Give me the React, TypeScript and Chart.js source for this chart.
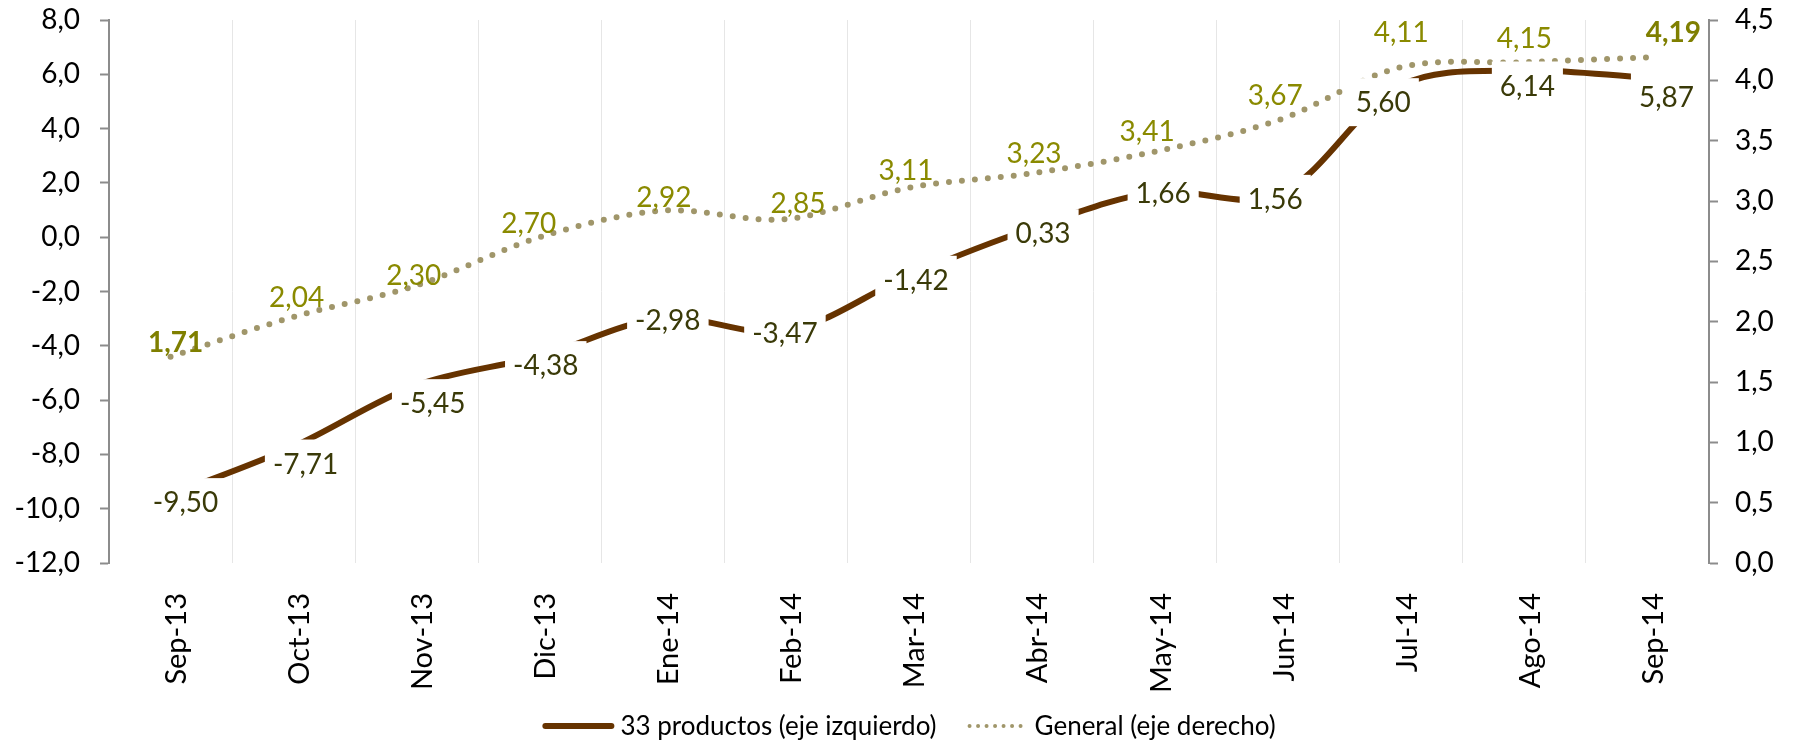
import React, { useEffect, useRef } from 'react';
import { Chart, registerables } from 'chart.js';

Chart.register(...registerables);

const categories = ['Sep-13', 'Oct-13', 'Nov-13', 'Dic-13', 'Ene-14', 'Feb-14', 'Mar-14', 'Abr-14', 'May-14', 'Jun-14', 'Jul-14', 'Ago-14', 'Sep-14'];
const productos33 = [-9.5, -7.71, -5.45, -4.38, -2.98, -3.47, -1.42, 0.33, 1.66, 1.56, 5.6, 6.14, 5.87];
const general = [1.71, 2.04, 2.3, 2.7, 2.92, 2.85, 3.11, 3.23, 3.41, 3.67, 4.11, 4.15, 4.19];
const seriesNames = ['33 productos (eje izquierdo)', 'General (eje derecho)'];
const leftAxis = [-12, 8, 2];
const rightAxis = [0, 4.5, 0.5];

const FONT = 'Lato';
const BROWN = '#663300';
const KHAKI = '#A0966A';
const PROD_LABEL = '#3A3A08';
const GEN_LABEL = '#8A8A00';
const AXIS = '#8C8C8C';

const fmt1 = (v: number) => Number(v).toFixed(1).replace('.', ',');
const fmt2 = (v: number) => Number(v).toFixed(2).replace('.', ',');

const labelPlugin = {
  id: 'valueLabels',
  afterDatasetsDraw(chart: any, _args: any, opts: any) {
    const ctx = chart.ctx;
    ctx.save();
    ctx.textAlign = 'center';
    ctx.textBaseline = 'middle';
    ctx.font = `28px ${FONT}`;
    const m0 = chart.getDatasetMeta(0);
    m0.data.forEach((pt: any, i: number) => {
      const [dx, dy] = opts.prodNudge[i];
      const x = pt.x + dx;
      const y = pt.y + dy;
      const txt = fmt2(productos33[i]);
      const w = ctx.measureText(txt).width + 16;
      const h = 48;
      ctx.fillStyle = '#ffffff';
      ctx.fillRect(x - w / 2, y - h / 2, w, h);
      ctx.fillStyle = PROD_LABEL;
      ctx.fillText(txt, x, y + 1);
    });
    const m1 = chart.getDatasetMeta(1);
    const last = m1.data.length - 1;
    m1.data.forEach((pt: any, i: number) => {
      const [dx, dy] = opts.genNudge[i];
      const bold = i === 0 || i === last;
      ctx.font = `${bold ? 'bold ' : ''}28px ${FONT}`;
      ctx.fillStyle = bold ? '#7F7F00' : GEN_LABEL;
      ctx.fillText(fmt2(general[i]), pt.x + dx, pt.y + dy + 1);
    });
    ctx.restore();
  },
};

const legendPlugin = {
  id: 'customLegend',
  afterDraw(chart: any, _args: any, opts: any) {
    const ctx = chart.ctx;
    const area = chart.chartArea;
    ctx.save();
    ctx.font = `26px ${FONT}`;
    ctx.textBaseline = 'middle';
    ctx.textAlign = 'left';
    const sampleW1 = 72;
    const sampleW2 = 62;
    const gap = 6;
    const between = 30;
    const t1 = ctx.measureText(seriesNames[0]).width;
    const t2 = ctx.measureText(seriesNames[1]).width;
    const total = sampleW1 + gap + t1 + between + sampleW2 + gap + t2;
    let x = (area.left + area.right) / 2 - total / 2;
    const y = opts.y;
    ctx.strokeStyle = BROWN;
    ctx.lineWidth = 6;
    ctx.lineCap = 'round';
    ctx.beginPath();
    ctx.moveTo(x + 3, y);
    ctx.lineTo(x + sampleW1 - 3, y);
    ctx.stroke();
    x += sampleW1 + gap;
    ctx.fillStyle = '#000000';
    ctx.fillText(seriesNames[0], x, y + 1);
    x += t1 + between;
    ctx.strokeStyle = KHAKI;
    ctx.lineWidth = 4;
    ctx.setLineDash([0, 8.5]);
    ctx.beginPath();
    ctx.moveTo(x + 3, y);
    ctx.lineTo(x + sampleW2 - 3, y);
    ctx.stroke();
    ctx.setLineDash([]);
    x += sampleW2 + gap;
    ctx.fillText(seriesNames[1], x, y + 1);
    ctx.restore();
  },
};

const fixVerticalAxis = (width: number) => (s: any) => {
  s.width = width;
  s.paddingTop = 20;
  s.paddingBottom = 0;
};

export default function App() {
  const canvasRef = useRef<HTMLCanvasElement | null>(null);

  useEffect(() => {
    document.body.style.margin = '0';
    let chart: Chart | null = null;
    let cancelled = false;
    const build = () => {
      if (cancelled || !canvasRef.current) return;
      chart = new Chart(canvasRef.current, {
        type: 'line',
        data: {
          labels: categories,
          datasets: [
            {
              label: seriesNames[0],
              data: productos33,
              yAxisID: 'y',
              borderColor: BROWN,
              backgroundColor: BROWN,
              borderWidth: 6,
              borderCapStyle: 'round',
              pointRadius: 0,
              tension: 0.33,
              fill: false,
            },
            {
              label: seriesNames[1],
              data: general,
              yAxisID: 'y1',
              borderColor: KHAKI,
              backgroundColor: KHAKI,
              borderWidth: 6,
              borderDash: [0, 13],
              borderCapStyle: 'round',
              pointRadius: 0,
              tension: 0.33,
              fill: false,
            },
          ],
        },
        options: {
          responsive: false,
          animation: false,
          devicePixelRatio: 1,
          layout: { padding: { top: 0, bottom: 40, left: 0, right: 0 } },
          plugins: {
            legend: { display: false },
            tooltip: { enabled: false },
            valueLabels: {
              prodNudge: [[15, 7], [12, 17], [16, 18], [6, 9], [5, 2], [-1, 2], [7, 4], [11, 5], [8, 1], [-3, 4], [-18, 17], [3, 15], [19, 19]],
              genNudge: [[5, -15], [3, -20], [-3, -10], [-11, -14], [1, -14], [12, -16], [-3, -18], [2, -20], [-8, -21], [-3, -25], [0, -35], [0, -24], [26, -25]],
            },
            customLegend: { y: 726 },
          } as any,
          scales: {
            x: {
              type: 'category',
              offset: true,
              grid: { display: true, offset: true, color: '#E6E6E6', lineWidth: 1, drawTicks: false },
              border: { display: false },
              ticks: {
                autoSkip: false,
                maxRotation: 90,
                minRotation: 90,
                padding: 30,
                labelOffset: 6,
                color: '#000000',
                font: { family: FONT, size: 29 },
              },
              afterFit: (s: any) => { s.height = 138; },
            },
            y: {
              type: 'linear',
              position: 'left',
              min: leftAxis[0],
              max: leftAxis[1],
              ticks: {
                stepSize: leftAxis[2],
                padding: 20,
                color: '#000000',
                font: { family: FONT, size: 28 },
                callback: (v: any) => fmt1(v),
              },
              grid: { drawOnChartArea: false, drawTicks: true, tickLength: 9, tickColor: AXIS, tickWidth: 2 },
              border: { display: true, color: AXIS, width: 2 },
              afterFit: fixVerticalAxis(109),
            },
            y1: {
              type: 'linear',
              position: 'right',
              min: rightAxis[0],
              max: rightAxis[1],
              ticks: {
                stepSize: rightAxis[2],
                padding: 17,
                color: '#000000',
                font: { family: FONT, size: 28 },
                callback: (v: any) => fmt1(v),
              },
              grid: { drawOnChartArea: false, drawTicks: true, tickLength: 9, tickColor: AXIS, tickWidth: 2 },
              border: { display: true, color: AXIS, width: 2 },
              afterFit: fixVerticalAxis(90),
            },
          },
        },
        plugins: [labelPlugin, legendPlugin],
      } as any);
    };
    const fontsReady = (document as any).fonts
      ? Promise.all([
          (document as any).fonts.load(`28px ${FONT}`),
          (document as any).fonts.load(`bold 28px ${FONT}`),
        ]).catch(() => null)
      : Promise.resolve(null);
    fontsReady.then(build);
    return () => {
      cancelled = true;
      if (chart) chart.destroy();
    };
  }, []);

  return (
    <div style={{ width: '1799px', height: '741px', background: '#ffffff' }}>
      <canvas ref={canvasRef} width={1799} height={741} style={{ display: 'block' }} />
    </div>
  );
}
